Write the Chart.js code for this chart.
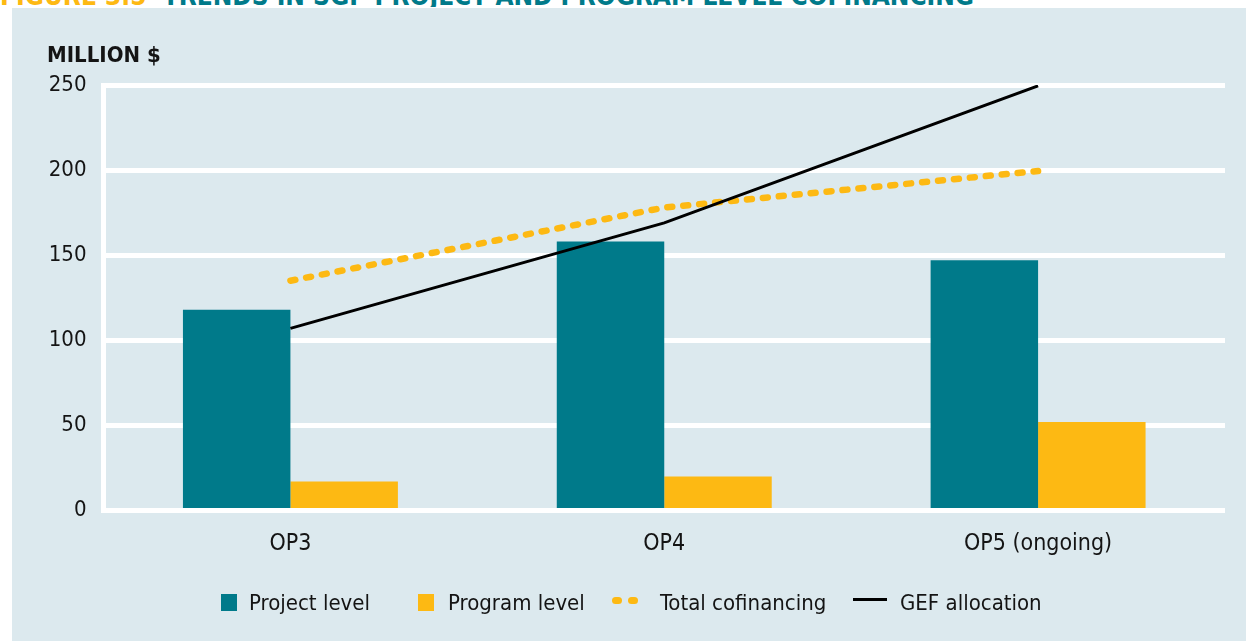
<!DOCTYPE html>
<html>
<head>
<meta charset="utf-8">
<script src="https://cdn.jsdelivr.net/npm/chart.js@4"></script>
<style>
  html, body { margin:0; padding:0; background:#ffffff; width:1246px; height:641px; overflow:hidden; }
  body { position:relative; font-family:'DejaVu Sans Condensed','Liberation Sans Narrow',sans-serif; color:#141414; }
  #title { position:absolute; left:0; top:0; width:1246px; height:7px; overflow:hidden; }
  #title span.t { position:absolute; left:0; top:-17px; white-space:nowrap; font-weight:bold; font-size:26px; line-height:26px; }
  #panel { position:absolute; left:12px; top:8px; width:1234px; height:633px; background:#dce9ee; }
  #c { position:absolute; left:0; top:0; }
  #ylabel { position:absolute; left:47px; top:44px; font-weight:bold; font-size:22px; line-height:22px; white-space:nowrap; }
  .lg { position:absolute; font-size:22px; line-height:22px; top:592px; white-space:nowrap; }
  .mk { position:absolute; }
</style>
</head>
<body>
<div id="title"><span class="t"><span style="color:#fdb913">FIGURE 3.5</span>&nbsp;&nbsp;<span style="color:#007a8a">TRENDS IN SGP PROJECT AND PROGRAM LEVEL COFINANCING</span></span></div>
<div id="panel"></div>
<canvas id="c" width="1246" height="641"></canvas>
<div id="ylabel">MILLION $</div>
<div id="legend"></div>
<script>
// ---- data ----
const categories = ['OP3', 'OP4', 'OP5 (ongoing)'];
const projectLevel = [118, 158, 147];
const programLevel = [17, 20, 52];
const totalCofinancing = [135, 178, 199.5];
const gefAllocation = [107, 169, 249.5];
const yTicks = [0, 50, 100, 150, 200, 250];
const seriesNames = ['Project level', 'Program level', 'Total cofinancing', 'GEF allocation'];

const TEAL = '#007a8a';
const ORANGE = '#fdb913';
const FONT = "'DejaVu Sans Condensed','Liberation Sans Narrow',sans-serif";

new Chart(document.getElementById('c'), {
  data: {
    labels: categories,
    datasets: [
      { type:'line', label: seriesNames[3], data: gefAllocation, borderColor:'#000000', borderWidth:3,
        pointRadius:0, tension:0, fill:false, order:0 },
      { type:'line', label: seriesNames[2], data: totalCofinancing, borderColor:ORANGE, borderWidth:6.5,
        borderDash:[5, 11], borderCapStyle:'round', pointRadius:0, tension:0, fill:false, order:1 },
      { type:'bar', label: seriesNames[0], data: projectLevel, backgroundColor:TEAL,
        categoryPercentage:0.575, barPercentage:1.0, order:2 },
      { type:'bar', label: seriesNames[1], data: programLevel, backgroundColor:ORANGE,
        categoryPercentage:0.575, barPercentage:1.0, order:2 }
    ]
  },
  options: {
    responsive:false,
    devicePixelRatio:1,
    animation:false,
    layout: { padding: { left:0, right:21, top:85, bottom:0 } },
    plugins: { legend: { display:false }, tooltip: { enabled:false }, title: { display:false } },
    scales: {
      x: {
        grid: { display:false, drawTicks:false },
        border: { display:false },
        ticks: { color:'#141414', font:{ family:FONT, size:23 }, padding:20, maxRotation:0 },
        afterFit: (s) => { s.height = 130.5; }
      },
      y: {
        min: yTicks[0], max: yTicks[yTicks.length - 1],
        afterBuildTicks: (s) => { s.ticks = yTicks.map(v => ({ value: v })); },
        grid: { color:'#ffffff', lineWidth:5, drawTicks:false },
        border: { display:true, color:'#ffffff', width:5 },
        ticks: { color:'#141414', font:{ family:FONT, size:22 }, padding:17 },
        afterFit: (s) => { s.width = 103.5; }
      }
    }
  }
});

// ---- legend (HTML) ----
const lg = document.getElementById('legend');
const items = [
  { name: seriesNames[0], mk: [{l:221, t:594, w:16, h:17, bg:TEAL, r:0}], tx:249 },
  { name: seriesNames[1], mk: [{l:418, t:594, w:16, h:17, bg:ORANGE, r:0}], tx:448 },
  { name: seriesNames[2], mk: [{l:612, t:597, w:10, h:6.5, bg:ORANGE, r:3.5}, {l:628, t:597, w:10, h:6.5, bg:ORANGE, r:3.5}], tx:660 },
  { name: seriesNames[3], mk: [{l:853, t:598, w:34, h:3, bg:'#000000', r:0}], tx:900 }
];
items.forEach(it => {
  it.mk.forEach(m => {
    const d = document.createElement('div');
    d.className = 'mk';
    d.style.cssText = `left:${m.l}px;top:${m.t}px;width:${m.w}px;height:${m.h}px;background:${m.bg};border-radius:${m.r}px;`;
    lg.appendChild(d);
  });
  const t = document.createElement('div');
  t.className = 'lg';
  t.style.left = it.tx + 'px';
  t.textContent = it.name;
  lg.appendChild(t);
});
</script>
</body>
</html>
